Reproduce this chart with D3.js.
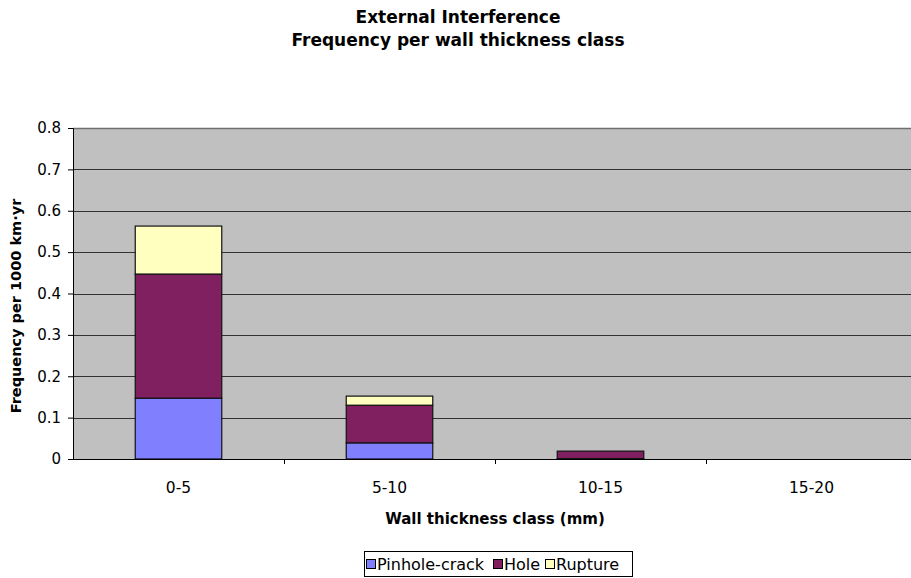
<!DOCTYPE html>
<html>
<head>
<meta charset="utf-8">
<script src="https://cdn.jsdelivr.net/npm/d3@7"></script>
<style>
  html, body { margin: 0; padding: 0; background: #fff; }
  svg { display: block; font-family: "DejaVu Sans", Verdana, sans-serif; }
</style>
</head>
<body>
<svg id="chart" width="911" height="578"></svg>
<script>
// Wall thickness classes (mm)
const categories = ["0-5", "5-10", "10-15", "15-20"];
// Failure frequency per 1000 km·yr, by failure mode
const pinholeCrack = [0.147, 0.039, 0.001, 0];
const hole = [0.300, 0.091, 0.018, 0];
const rupture = [0.116, 0.022, 0, 0];
const seriesNames = ["Pinhole-crack", "Hole", "Rupture"];
const seriesColors = ["#8080ff", "#802060", "#ffffc0"];
const yTicks = [0, 0.1, 0.2, 0.3, 0.4, 0.5, 0.6, 0.7, 0.8];

const svg = d3.select("#chart");
const margin = { left: 73, right: -6, top: 128, bottom: 119 };
const W = 911, H = 578;
const x0 = margin.left, x1 = W - margin.right;
const y0 = H - margin.bottom, y1 = margin.top;

const x = d3.scaleBand().domain(categories).range([x0, x1]).paddingInner(0.59).paddingOuter(0.295);
const xBand = d3.scaleBand().domain(categories).range([x0, x1]);
const y = d3.scaleLinear().domain([0, 0.8]).range([y0, y1]);

const rows = categories.map((c, i) => ({
  cat: c, "Pinhole-crack": pinholeCrack[i], "Hole": hole[i], "Rupture": rupture[i]
}));
const stacked = d3.stack().keys(seriesNames)(rows);

// plot background
svg.append("rect").attr("x", x0).attr("y", y1).attr("width", x1 - x0).attr("height", y0 - y1)
  .attr("fill", "#c0c0c0");
svg.append("line").attr("x1", x0).attr("x2", x1).attr("y1", y1 + 0.5).attr("y2", y1 + 0.5)
  .attr("stroke", "#707070").attr("stroke-width", 1.5);

// horizontal gridlines
svg.append("g").selectAll("line").data(yTicks.filter(t => t > 0 && t < 0.8)).join("line")
  .attr("x1", x0).attr("x2", x1)
  .attr("y1", d => Math.round(y(d)) + 0.5).attr("y2", d => Math.round(y(d)) + 0.5)
  .attr("stroke", "#333").attr("stroke-width", 1);

// stacked bars
svg.append("g").selectAll("g").data(stacked).join("g")
  .attr("fill", (d, i) => seriesColors[i])
  .selectAll("rect").data(d => d.filter(s => s[1] - s[0] > 0)).join("rect")
  .attr("x", d => x(d.data.cat))
  .attr("width", x.bandwidth())
  .attr("y", d => y(d[1]))
  .attr("height", d => y(d[0]) - y(d[1]))
  .attr("stroke", "#111").attr("stroke-width", 1.2);

// y axis
const yAxis = d3.axisLeft(y).tickValues(yTicks).tickSize(5).tickPadding(7)
  .tickFormat(d => d === 0 ? "0" : d3.format(".1f")(d));
const gy = svg.append("g").attr("transform", `translate(${x0},0)`).call(yAxis);
gy.select(".domain").attr("stroke", "#000");
gy.selectAll(".tick line").attr("stroke", "#000");
gy.selectAll("text").attr("font-size", 15).attr("fill", "#000").attr("font-family", "DejaVu Sans");

// x axis: baseline, boundary ticks, category labels
svg.append("line").attr("x1", x0).attr("x2", x1).attr("y1", y0 + 0.5).attr("y2", y0 + 0.5)
  .attr("stroke", "#000");
svg.append("g").selectAll("line").data(categories.slice(1)).join("line")
  .attr("x1", d => Math.round(xBand(d)) + 0.5).attr("x2", d => Math.round(xBand(d)) + 0.5)
  .attr("y1", y0).attr("y2", y0 + 5).attr("stroke", "#000");
svg.append("g").selectAll("text").data(categories).join("text")
  .attr("x", d => xBand(d) + xBand.bandwidth() / 2).attr("y", y0 + 34)
  .attr("text-anchor", "middle").attr("font-size", 15.5).attr("fill", "#000")
  .text(d => d);

// titles
svg.append("text").attr("x", 458).attr("y", 23).attr("text-anchor", "middle")
  .attr("font-size", 17).attr("font-weight", "bold").text("External Interference");
svg.append("text").attr("x", 458).attr("y", 46).attr("text-anchor", "middle")
  .attr("font-size", 17).attr("font-weight", "bold").text("Frequency per wall thickness class");
svg.append("text").attr("x", 495).attr("y", 524).attr("text-anchor", "middle")
  .attr("font-size", 15).attr("font-weight", "bold").text("Wall thickness class (mm)");
svg.append("text").attr("transform", "translate(21,306) rotate(-90)").attr("text-anchor", "middle")
  .attr("font-size", 14.5).attr("font-weight", "bold").text("Frequency per 1000 km·yr");

// legend
const lg = svg.append("g");
lg.append("rect").attr("x", 364.5).attr("y", 551.5).attr("width", 268).attr("height", 25)
  .attr("fill", "#fff").attr("stroke", "#000");
const legendX = [366, 493, 545];
seriesNames.forEach((n, i) => {
  lg.append("rect").attr("x", legendX[i] + 0.5).attr("y", 559.5).attr("width", 9).attr("height", 9)
    .attr("fill", seriesColors[i]).attr("stroke", "#000");
  lg.append("text").attr("x", legendX[i] + 11).attr("y", 570).attr("font-size", 16).text(n);
});
</script>
</body>
</html>
